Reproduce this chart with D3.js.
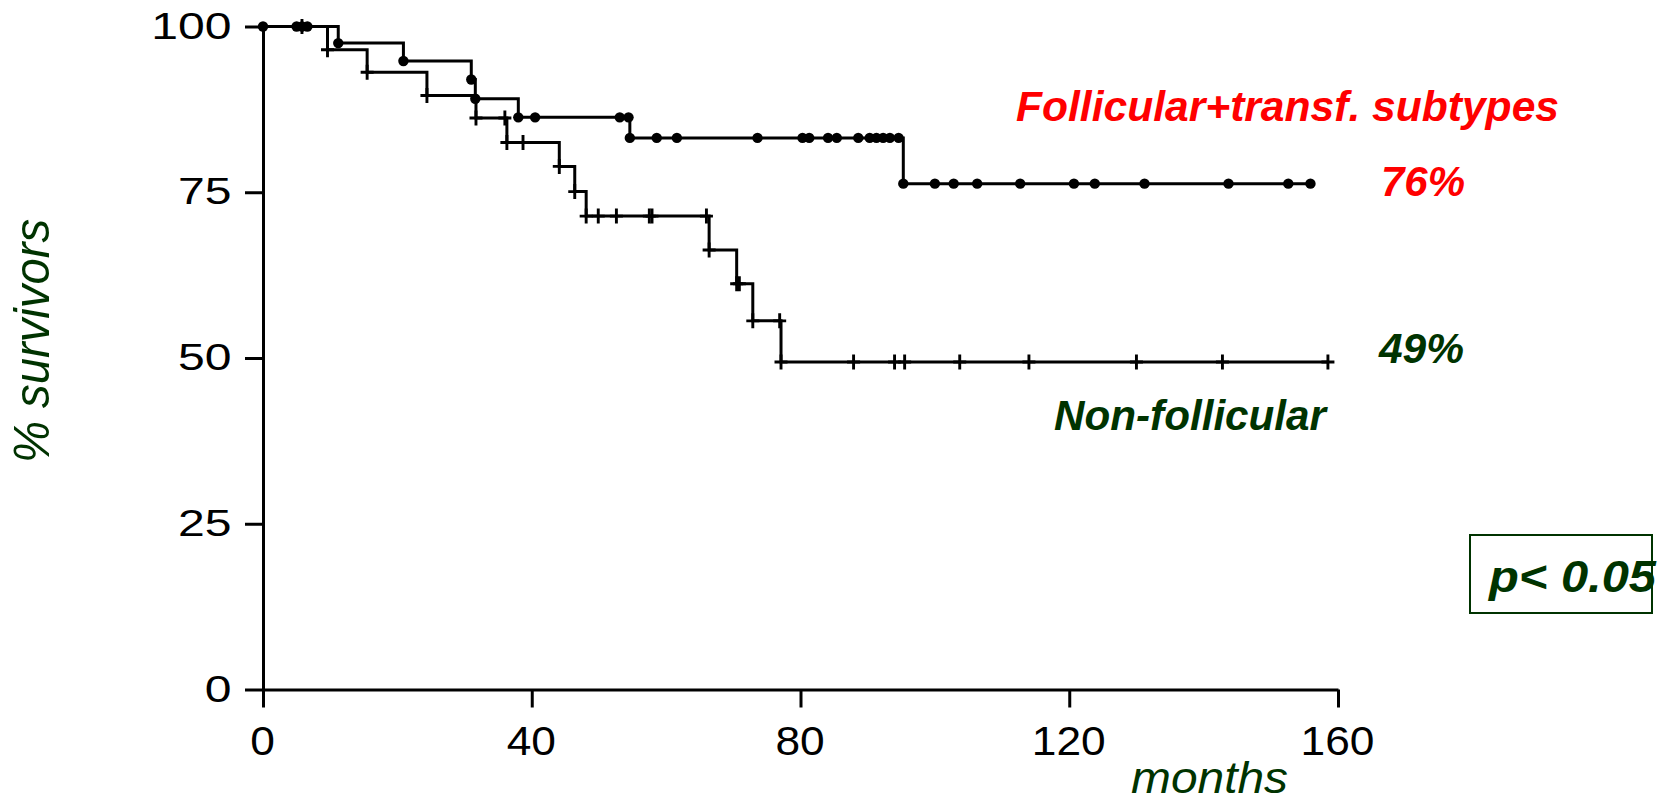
<!DOCTYPE html>
<html>
<head>
<meta charset="utf-8">
<script src="https://cdn.jsdelivr.net/npm/d3@7"></script>
<style>
  body { margin: 0; background: #fff; }
  svg { display: block; }
</style>
</head>
<body>
<svg id="chart" width="1669" height="808"></svg>
<script>
// Kaplan–Meier survival, two histology groups (months of follow-up).

// Follicular + transformed subtypes: step times and survival after each step (%)
const follicularStepTimes = [0, 11.2, 20.9, 31.0, 31.6, 38.0, 54.6, 95.3];
const follicularStepValues = [100, 97.5, 94.8, 92.0, 89.1, 86.3, 83.2, 76.3];
// Times carrying a symbol (events and censored patients)
const follicularMarks = [0, 5.0, 5.8, 6.6, 11.2, 20.9, 31.0, 31.6, 38.0, 40.5, 53.1, 54.4, 54.6,
  58.6, 61.6, 73.6, 80.3, 81.3, 84.1, 85.4, 88.6, 90.3, 91.3, 92.3, 93.3, 94.6, 95.3,
  100.0, 102.8, 106.3, 112.7, 120.7, 123.8, 131.2, 143.7, 152.6, 155.9];
const follicularEnd = 155.9;

// Non-follicular
const nonFollicularStepTimes = [0, 9.6, 15.5, 24.4, 31.7, 36.3, 44.1, 46.4, 48.1, 66.4, 70.5, 72.9, 77.1];
const nonFollicularStepValues = [100, 96.5, 93.1, 89.6, 86.2, 82.5, 78.9, 75.1, 71.4, 66.3, 61.2, 55.6, 49.4];
const nonFollicularMarks = [5.8, 9.6, 15.5, 24.4, 31.7, 36.0, 36.3, 38.7, 44.1, 46.4, 48.1, 49.9,
  52.6, 57.5, 57.9, 66.0, 66.4, 70.5, 70.9, 72.9, 76.9, 77.1, 87.9, 94.0, 95.5, 103.7,
  114.0, 130.0, 142.8, 158.5];
const nonFollicularEnd = 158.5;

// Axes
const xTicks = [0, 40, 80, 120, 160];
const yTicks = [0, 25, 50, 75, 100];
const xDomain = [0, 160];
const yDomain = [0, 100];

const RED = "#ff0000";
const GREEN = "#003300";
const FONT = "'Liberation Sans', Arial, Helvetica, sans-serif";

const svg = d3.select("#chart");
svg.append("rect").attr("width", 1669).attr("height", 808).attr("fill", "#fff");

const x = d3.scaleLinear().domain(xDomain).range([263, 1338]);
const y = d3.scaleLinear().domain(yDomain).range([689.5, 26.5]);

// survival at time t (right-continuous step function)
function survivalAt(times, values, t) {
  const i = d3.bisectRight(times, t) - 1;
  return values[Math.max(0, i)];
}

// ---- axes ----
const yAxis = svg.append("g")
  .attr("transform", `translate(${x(0)},0)`)
  .call(d3.axisLeft(y).tickValues(yTicks).tickSize(18).tickSizeOuter(0));
const xAxis = svg.append("g")
  .attr("transform", `translate(0,${y(0)})`)
  .call(d3.axisBottom(x).tickValues(xTicks).tickSize(18).tickSizeOuter(0));

[yAxis, xAxis].forEach(g => {
  g.selectAll("path, line").attr("stroke", "#000").attr("stroke-width", 3);
  g.selectAll("text")
    .attr("fill", "#000")
    .attr("font-family", FONT)
    .attr("x", 0).attr("y", 0).attr("dy", null);
});
yAxis.selectAll("text")
  .attr("font-size", 37)
  .attr("text-anchor", "end")
  .attr("transform", "translate(-31.5,11.5) scale(1.3,1)");
xAxis.selectAll("text")
  .attr("font-size", 41)
  .attr("text-anchor", "middle")
  .attr("transform", "translate(-1,65) scale(1.08,1)");

// ---- survival curves ----
const stepLine = d3.line()
  .x(d => x(d[0])).y(d => y(d[1]))
  .curve(d3.curveStepAfter);

function curvePoints(times, values, end) {
  const pts = times.map((t, i) => [t, values[i]]);
  pts.push([end, values[values.length - 1]]);
  return pts;
}

svg.append("path")
  .datum(curvePoints(nonFollicularStepTimes, nonFollicularStepValues, nonFollicularEnd))
  .attr("d", stepLine)
  .attr("fill", "none").attr("stroke", "#000").attr("stroke-width", 3);

svg.append("path")
  .datum(curvePoints(follicularStepTimes, follicularStepValues, follicularEnd))
  .attr("d", stepLine)
  .attr("fill", "none").attr("stroke", "#000").attr("stroke-width", 3);

// crosses for the non-follicular group
svg.append("g").selectAll("path")
  .data(nonFollicularMarks)
  .join("path")
  .attr("transform", t => `translate(${x(t)},${y(survivalAt(nonFollicularStepTimes, nonFollicularStepValues, t))})`)
  .attr("d", "M-6.5,0H6.5M0,-7.5V7.5")
  .attr("stroke", "#000").attr("stroke-width", 2.9).attr("fill", "none");

// dots for the follicular group
svg.append("g").selectAll("circle")
  .data(follicularMarks)
  .join("circle")
  .attr("cx", t => x(t))
  .attr("cy", t => y(survivalAt(follicularStepTimes, follicularStepValues, t)))
  .attr("r", 5.2)
  .attr("fill", "#000");

// ---- labels ----
function label(text, px, py, opts) {
  const el = svg.append("text")
    .attr("x", px).attr("y", py)
    .attr("font-family", FONT)
    .attr("font-size", opts.size)
    .attr("font-weight", opts.weight || "normal")
    .attr("font-style", opts.style || "normal")
    .attr("fill", opts.fill)
    .text(text);
  if (opts.length) el.attr("textLength", opts.length).attr("lengthAdjust", "spacingAndGlyphs");
  if (opts.transform) el.attr("transform", opts.transform);
  return el;
}

const follFinal = follicularStepValues[follicularStepValues.length - 1];
const nonFollFinal = nonFollicularStepValues[nonFollicularStepValues.length - 1];

label("Follicular+transf.  subtypes", 1016, 121, { size: 42, weight: "bold", style: "italic", fill: RED, length: 543 });
label(Math.round(follFinal) + "%", 1381, 196, { size: 42, weight: "bold", style: "italic", fill: RED, length: 84 });
label(Math.round(nonFollFinal) + "%", 1379, 363, { size: 42, weight: "bold", style: "italic", fill: GREEN, length: 85 });
label("Non-follicular", 1054, 430, { size: 42, weight: "bold", style: "italic", fill: GREEN, length: 272 });

// axis titles
label("months", 1131, 793, { size: 44, style: "italic", fill: GREEN, length: 157 });
label("% survivors", 0, 0, { size: 50, style: "italic", fill: GREEN, length: 244,
  transform: "translate(49,463) rotate(-90)" });

// significance box
svg.append("rect")
  .attr("x", 1470).attr("y", 535).attr("width", 182).attr("height", 78)
  .attr("fill", "#fff").attr("stroke", GREEN).attr("stroke-width", 2);
label("p< 0.05", 1489, 592, { size: 45, weight: "bold", style: "italic", fill: GREEN, length: 167 });
</script>
</body>
</html>
